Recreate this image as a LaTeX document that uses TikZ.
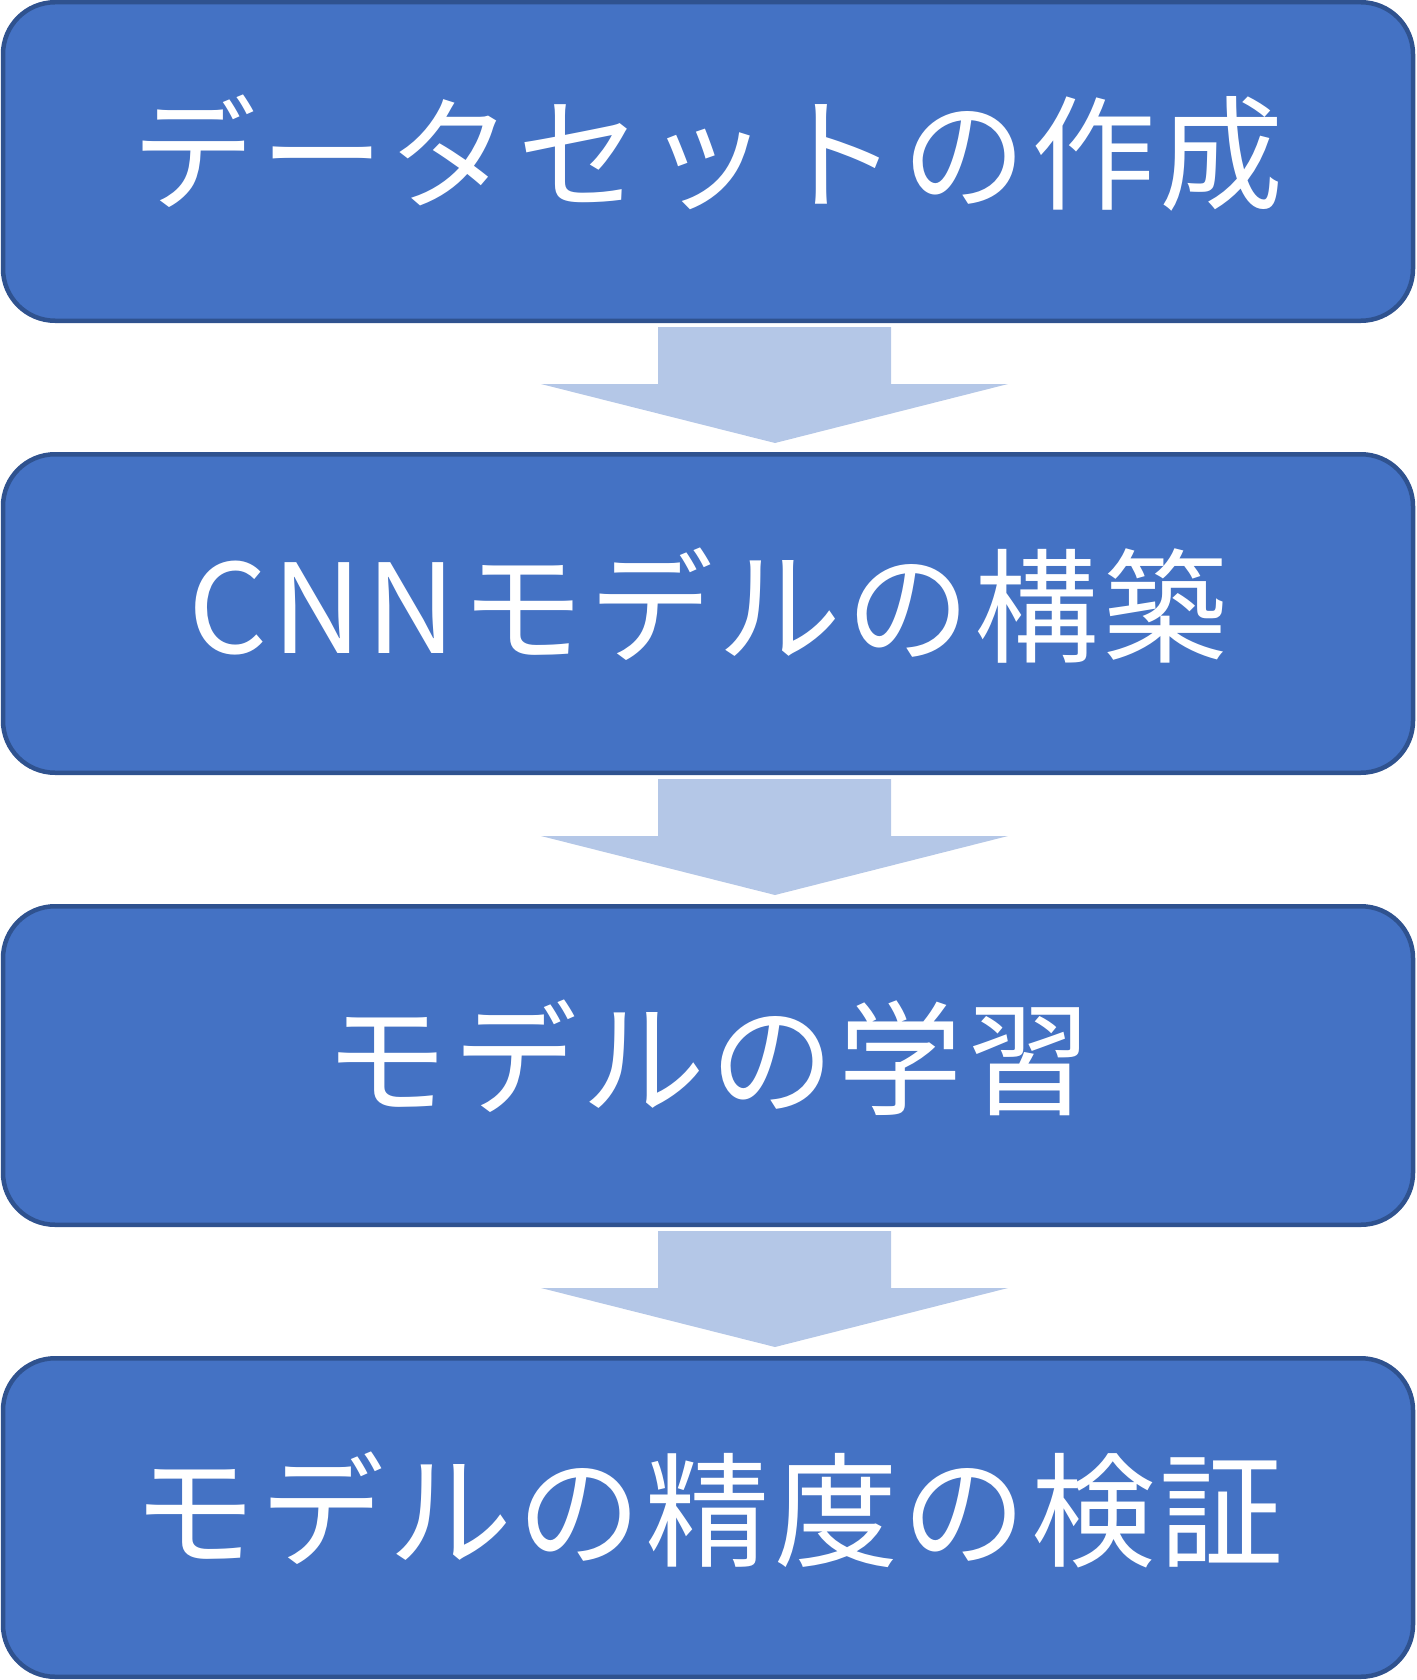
\documentclass[tikz,border=0pt]{standalone}
\usepackage{fontspec}
\newfontfamily\jpfont{Noto Sans CJK JP}[LetterSpace=3.6]
\usetikzlibrary{positioning}
\definecolor{boxfill}{HTML}{4472C4}
\definecolor{boxline}{HTML}{2F528F}
\definecolor{flowfill}{HTML}{B4C7E7}

\begin{document}
\begin{tikzpicture}[
                node distance=129pt,
                stepbox/.style={draw=boxline, fill=boxfill, line width=4.5pt,
                  rounded corners=52pt, minimum width=1410pt, minimum height=318.5pt,
                  inner sep=0pt, text=white, text height=104pt, text depth=25pt,
                  font=\jpfont\fontsize{124pt}{124pt}\selectfont},
                flow/.style={fill=flowfill}
              ]
              \useasboundingbox (0,0) rectangle (1416pt,-1680pt);

              % Boxes
              \node[stepbox] (s1) at (708pt,-161.5pt) {データセットの作成};
              \node[stepbox, below=of s1] (s2) {CNNモデルの構築};
              \node[stepbox, below=of s2] (s3) {モデルの学習};
              \node[stepbox, below=of s3] (s4) {モデルの精度の検証};

              % Arrows
              \foreach \a/\b in {s1/s2, s2/s3, s3/s4}
                \fill[flow] ([xshift=-50pt,yshift=-4pt]\a.south)
                  -- ([xshift=183pt,yshift=-4pt]\a.south)
                  -- ([xshift=183pt,yshift=-61pt]\a.south)
                  -- ([xshift=300pt,yshift=-61pt]\a.south)
                  -- ([xshift=67pt,yshift=9pt]\b.north)
                  -- ([xshift=-167pt,yshift=-61pt]\a.south)
                  -- ([xshift=-50pt,yshift=-61pt]\a.south)
                  -- cycle;
              \end{tikzpicture}
\end{document}
